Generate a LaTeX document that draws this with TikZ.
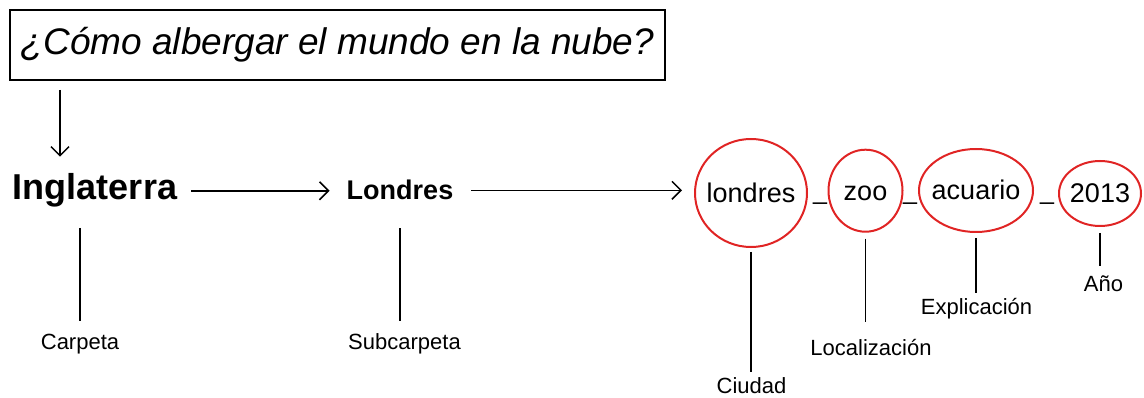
\documentclass[tikz,border=0pt]{standalone}
\usepackage{fontspec}
\setmainfont{Liberation Sans}
\usepackage{xcolor}
\usetikzlibrary{shapes.geometric, arrows.meta, positioning}
\definecolor{ringred}{RGB}{224,36,36}
\tikzstyle{question} = [rectangle, draw=black, line width=2pt, minimum width=655pt, minimum height=70pt, inner sep=0pt, font=\itshape\fontsize{37}{44}\selectfont]
\tikzstyle{folder} = [inner sep=0pt, font=\bfseries\fontsize{36}{42}\selectfont]
\tikzstyle{subfolder} = [inner sep=0pt, font=\bfseries\fontsize{27}{32}\selectfont]
\tikzstyle{ring} = [ellipse, draw=ringred, line width=2pt, inner sep=-20pt, text height=19pt, text depth=0pt, font=\fontsize{27}{32}\selectfont]
\tikzstyle{joiner} = [inner sep=0pt, font=\fontsize{25}{30}\selectfont]
\tikzstyle{tag} = [inner sep=0pt, text height=16pt, text depth=5pt, font=\fontsize{22}{26}\selectfont]
\tikzstyle{arrow} = [line width=1.5pt, -{Straight Barb[length=9pt, width=18pt]}]
\tikzstyle{stem} = [line width=1.5pt]

\begin{document}
\begin{tikzpicture}[x=1pt, y=-1pt]
  \useasboundingbox (0,0) rectangle (1144,398);

  % Question box
  \node (question) [question] at (337.5,45) {¿Cómo albergar el mundo en la nube?};

  % Folders
  \node (inglaterra) [folder, anchor=base] at (95,200) {Inglaterra};
  \node (londres) [subfolder, anchor=base] at (400,200) {Londres};

  % File name parts
  \node (city) [ring, minimum width=112pt, minimum height=108pt] at (751,193) {londres};
  \node (place) [ring, minimum width=74pt, minimum height=82pt] at (865.5,190.7) {zoo};
  \node (what) [ring, minimum width=114pt, minimum height=83pt] at (976,190.5) {acuario};
  \node (year) [ring, minimum width=82pt, minimum height=65pt] at (1100,193.5) {2013};

  \node (gap1) [joiner, anchor=base] at (820,199.5) {\_};
  \node (gap2) [joiner, anchor=base] at (910,199.5) {\_};
  \node (gap3) [joiner, anchor=base] at (1047,199.5) {\_};

  % Labels
  \node (carpeta) [tag, anchor=base] at (80,349) {Carpeta};
  \node (subcarpeta) [tag, anchor=base] at (404.5,349) {Subcarpeta};
  \node (ciudad) [tag, anchor=base] at (751.5,393) {Ciudad};
  \node (localizacion) [tag, anchor=base] at (871,355) {Localización};
  \node (explicacion) [tag, anchor=base] at (976.5,315) {Explicación};
  \node (anio) [tag, anchor=base] at (1103.5,291.7) {Año};

  % Arrows
  \coordinate (drop) at (60,80);
  \draw [arrow, shorten <=10pt, shorten >=17pt] (drop) -- (drop |- inglaterra.north);
  \draw [arrow, shorten <=14pt, shorten >=17pt] (inglaterra.east) -- (inglaterra.east -| londres.west);
  \draw [arrow, shorten <=18pt, shorten >=12pt] (londres.east) -- (londres.east -| city.west);

  % Label lines
  \draw [stem, shorten <=20pt, shorten >=12pt] (carpeta.north |- inglaterra.south) -- (carpeta.north);
  \draw [stem, shorten <=28pt, shorten >=12pt] (londres.south) -- (londres.south |- subcarpeta.north);
  \draw [stem, shorten <=4pt, shorten >=5pt] (city.south) -- (city.south |- ciudad.north);
  \draw [stem, shorten <=6pt, shorten >=17pt] (place.south) -- (place.south |- localizacion.north);
  \draw [stem, shorten <=5pt, shorten >=6pt] (what.south) -- (what.south |- explicacion.north);
  \draw [stem, shorten <=6pt, shorten >=9pt] (year.south) -- (year.south |- anio.north);

\end{tikzpicture}
\end{document}
